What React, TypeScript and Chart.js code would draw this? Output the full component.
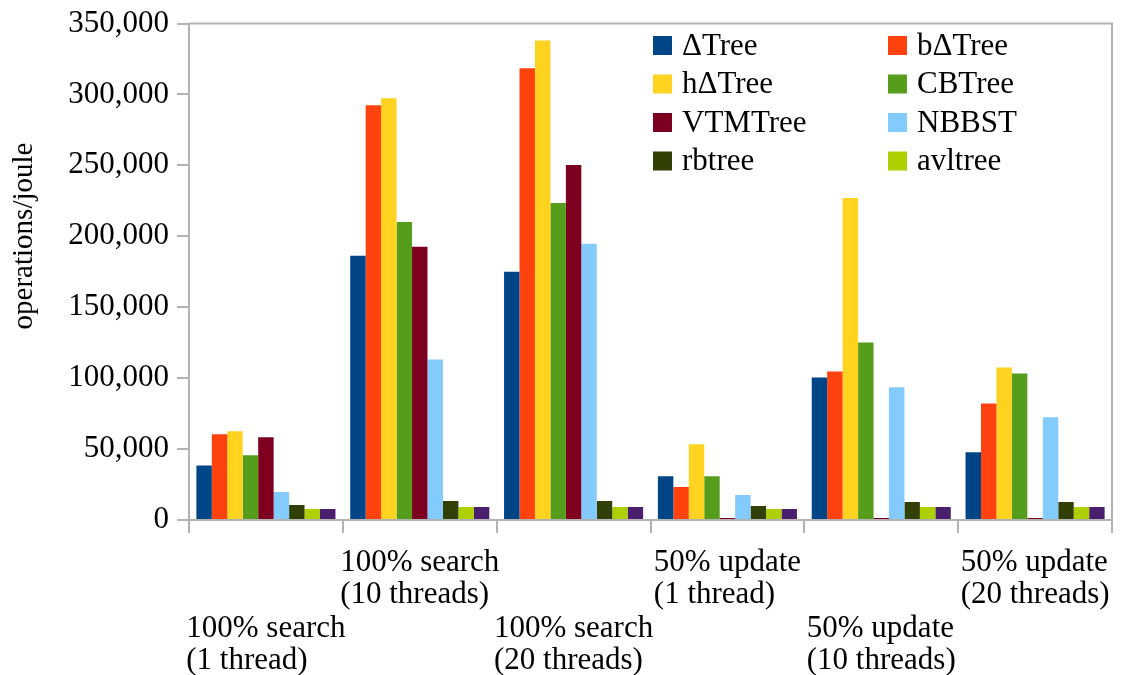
import React, { useEffect, useRef } from "react";
import { Chart, registerables } from "chart.js";

Chart.register(...registerables);

const categories: string[][] = [
  ["100% search", "(1 thread)"],
  ["100% search", "(10 threads)"],
  ["100% search", "(20 threads)"],
  ["50% update", "(1 thread)"],
  ["50% update", "(10 threads)"],
  ["50% update", "(20 threads)"],
];

const seriesNames = ["ΔTree", "bΔTree", "hΔTree", "CBTree", "VTMTree", "NBBST", "rbtree", "avltree", ""];
const seriesColors = ["#004586", "#ff420e", "#ffd320", "#579d1c", "#7e0021", "#83caff", "#314004", "#aecf00", "#4b1f6f"];

const deltaTree = [38500, 186200, 175000, 30900, 100500, 47800];
const bDeltaTree = [60500, 292400, 318400, 23200, 104700, 82200];
const hDeltaTree = [62500, 297300, 338000, 53400, 227000, 107500];
const cbTree = [45700, 210100, 223500, 30900, 125100, 103300];
const vtmTree = [58300, 192600, 250200, 1400, 1400, 1400];
const nbbst = [19700, 113200, 194700, 17600, 93500, 72400];
const rbtree = [10500, 13400, 13400, 9800, 12650, 12650];
const avltree = [7700, 9100, 9100, 7700, 9100, 9100];
const unnamedSeries = [7700, 9100, 9100, 7700, 9100, 9100];

const seriesValues = [deltaTree, bDeltaTree, hDeltaTree, cbTree, vtmTree, nbbst, rbtree, avltree, unnamedSeries];

const yTitle = "operations/joule";
const yMax = 350000;
const yStep = 50000;

const FONT = '"Liberation Serif", "Times New Roman", serif';
const GRAY = "#b3b3b3";

const framePlugin = {
  id: "frame",
  afterDatasetsDraw(chart: any) {
    const { ctx, chartArea } = chart;
    ctx.save();
    ctx.strokeStyle = GRAY;
    ctx.lineWidth = 2;
    ctx.beginPath();
    ctx.moveTo(chartArea.left, chartArea.top);
    ctx.lineTo(chartArea.right, chartArea.top);
    ctx.lineTo(chartArea.right, chartArea.bottom);
    ctx.stroke();
    ctx.restore();
  },
};

const labelsPlugin = {
  id: "xlabels",
  afterDraw(chart: any) {
    const { ctx, chartArea } = chart;
    const xScale = chart.scales.x;
    ctx.save();
    ctx.font = `31px ${FONT}`;
    ctx.fillStyle = "#000";
    ctx.textAlign = "left";
    ctx.textBaseline = "alphabetic";
    categories.forEach((lines, i) => {
      const cx = xScale.getPixelForValue(i);
      const w = Math.max(...lines.map((l) => ctx.measureText(l).width));
      const left = cx - w / 2;
      const base = chartArea.bottom + (i % 2 === 0 ? 117 : 51);
      lines.forEach((l, j) => ctx.fillText(l, left, base + j * 32));
    });
    // y title
    ctx.font = `29px ${FONT}`;
    ctx.textAlign = "center";
    ctx.translate(32, 236);
    ctx.rotate(-Math.PI / 2);
    ctx.fillText(yTitle, 0, 0);
    ctx.restore();
  },
};

const legendPlugin = {
  id: "customLegend",
  afterDraw(chart: any) {
    const { ctx, chartArea } = chart;
    ctx.save();
    ctx.font = `31px ${FONT}`;
    ctx.textAlign = "left";
    ctx.textBaseline = "middle";
    const items = chart.data.datasets.filter((d: any) => d.label);
    items.forEach((d: any, i: number) => {
      const col = i % 2;
      const row = Math.floor(i / 2);
      const bx = chartArea.left + 464 + col * 235;
      const cy = chartArea.top + 22 + row * 38.5;
      ctx.fillStyle = d.backgroundColor;
      ctx.fillRect(bx, cy - 9.5, 19, 19);
      ctx.fillStyle = "#000";
      ctx.fillText(d.label, bx + 29, cy + 1);
    });
    ctx.restore();
  },
};

export default function App() {
  const ref = useRef<HTMLCanvasElement | null>(null);
  useEffect(() => {
    if (!ref.current) return;
    const chart = new Chart(ref.current, {
      type: "bar",
      data: {
        labels: categories.map((c) => c.join(" ")),
        datasets: seriesValues.map((vals, i) => ({
          label: seriesNames[i],
          data: vals,
          backgroundColor: seriesColors[i],
          borderWidth: 0,
          categoryPercentage: 0.904,
          barPercentage: 1.0,
        })),
      },
      options: {
        responsive: false,
        animation: false,
        layout: { padding: { top: 22, right: 13, bottom: 0, left: 0 } },
        plugins: {
          legend: { display: false },
          tooltip: { enabled: false },
          title: { display: false },
        },
        scales: {
          x: {
            offset: true,
            grid: {
              offset: true,
              drawOnChartArea: false,
              drawTicks: true,
              tickLength: 13,
              color: GRAY,
              lineWidth: 2,
            },
            border: { display: true, color: GRAY, width: 2 },
            ticks: { display: false },
            afterFit: (scale: any) => {
              scale.height = 155;
            },
          },
          y: {
            min: 0,
            max: yMax,
            grid: {
              drawOnChartArea: false,
              drawTicks: true,
              tickLength: 12,
              color: GRAY,
              lineWidth: 2,
            },
            border: { display: true, color: GRAY, width: 2 },
            ticks: {
              stepSize: yStep,
              padding: 8,
              color: "#000",
              font: { family: FONT, size: 31, lineHeight: 1.0 },
              callback: (v: any) => Number(v).toLocaleString("en-US"),
            },
            afterFit: (scale: any) => {
              scale.width = 189;
            },
          },
        },
      },
      plugins: [framePlugin, labelsPlugin, legendPlugin],
    });
    return () => chart.destroy();
  }, []);
  return (
    <div style={{ position: "absolute", left: 0, top: 0, width: 1125, height: 675, background: "#fff" }}>
      <canvas ref={ref} width={1125} height={675} />
    </div>
  );
}
